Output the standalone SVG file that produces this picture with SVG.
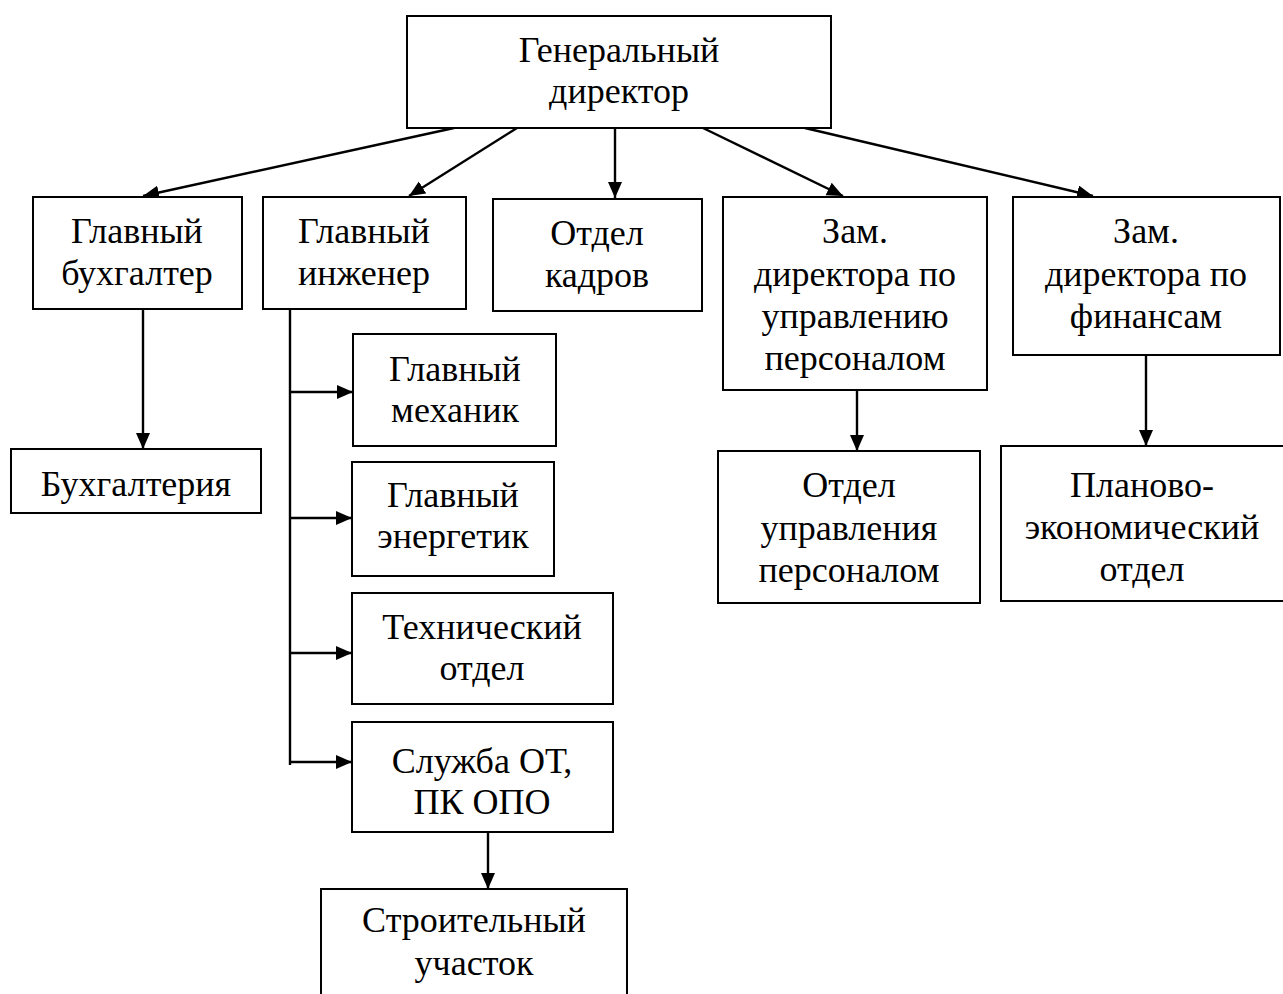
<svg xmlns="http://www.w3.org/2000/svg" width="1283" height="994" viewBox="0 0 1283 994">
<style>
.box{fill:#fff;stroke:#000;stroke-width:2}
.t{font-family:"Liberation Serif","Times New Roman",serif;font-size:36px;fill:#000;text-anchor:middle}
.c{stroke:#000;stroke-width:2.4;fill:none}
</style>
<defs>
<marker id="ah" markerUnits="userSpaceOnUse" markerWidth="17" markerHeight="15" refX="16" refY="7" orient="auto">
<path d="M0,0 L16,7 L0,14 Z" fill="#000"/>
</marker>
</defs>
<rect width="1283" height="994" fill="#fff"/>
<g id="connectors">
<line class="c" x1="454" y1="128" x2="143" y2="196" marker-end="url(#ah)"/>
<line class="c" x1="517" y1="128" x2="409" y2="196" marker-end="url(#ah)"/>
<line class="c" x1="615" y1="128" x2="615" y2="198" marker-end="url(#ah)"/>
<line class="c" x1="703" y1="128" x2="843" y2="196" marker-end="url(#ah)"/>
<line class="c" x1="805" y1="128" x2="1093" y2="196" marker-end="url(#ah)"/>
<line class="c" x1="143" y1="309" x2="143" y2="449" marker-end="url(#ah)"/>
<line class="c" x1="290" y1="309" x2="290" y2="765"/>
<line class="c" x1="290" y1="392" x2="353" y2="392" marker-end="url(#ah)"/>
<line class="c" x1="290" y1="518" x2="352" y2="518" marker-end="url(#ah)"/>
<line class="c" x1="290" y1="653" x2="352" y2="653" marker-end="url(#ah)"/>
<line class="c" x1="290" y1="762" x2="352" y2="762" marker-end="url(#ah)"/>
<line class="c" x1="488" y1="832" x2="488" y2="889" marker-end="url(#ah)"/>
<line class="c" x1="857" y1="390" x2="857" y2="451" marker-end="url(#ah)"/>
<line class="c" x1="1146" y1="355" x2="1146" y2="446" marker-end="url(#ah)"/>
</g>
<g id="gen-dir">
<rect class="box" x="407" y="16" width="424" height="112"/>
<text class="t" x="619" y="62">Генеральный</text>
<text class="t" x="619" y="103">директор</text>
</g>
<g id="gl-buh">
<rect class="box" x="33" y="197" width="209" height="112"/>
<text class="t" x="137" y="243">Главный</text>
<text class="t" x="137" y="285">бухгалтер</text>
</g>
<g id="gl-ing">
<rect class="box" x="263" y="197" width="203" height="112"/>
<text class="t" x="364" y="243">Главный</text>
<text class="t" x="364" y="285">инженер</text>
</g>
<g id="otdel-kadrov">
<rect class="box" x="493" y="199" width="209" height="112"/>
<text class="t" x="597" y="245">Отдел</text>
<text class="t" x="597" y="287">кадров</text>
</g>
<g id="zam-pers">
<rect class="box" x="723" y="197" width="264" height="193"/>
<text class="t" x="855" y="243">Зам.</text>
<text class="t" x="855" y="286">директора по</text>
<text class="t" x="855" y="328">управлению</text>
<text class="t" x="855" y="370">персоналом</text>
</g>
<g id="zam-fin">
<rect class="box" x="1013" y="197" width="267" height="158"/>
<text class="t" x="1146" y="243">Зам.</text>
<text class="t" x="1146" y="286">директора по</text>
<text class="t" x="1146" y="328">финансам</text>
</g>
<g id="buhgalteria">
<rect class="box" x="11" y="449" width="250" height="64"/>
<text class="t" x="136" y="496">Бухгалтерия</text>
</g>
<g id="gl-meh">
<rect class="box" x="353" y="334" width="203" height="112"/>
<text class="t" x="455" y="381">Главный</text>
<text class="t" x="455" y="422">механик</text>
</g>
<g id="gl-energ">
<rect class="box" x="352" y="462" width="202" height="114"/>
<text class="t" x="453" y="507">Главный</text>
<text class="t" x="453" y="548">энергетик</text>
</g>
<g id="tech-otdel">
<rect class="box" x="352" y="593" width="261" height="111"/>
<text class="t" x="482" y="639">Технический</text>
<text class="t" x="482" y="680">отдел</text>
</g>
<g id="sluzhba">
<rect class="box" x="352" y="722" width="261" height="110"/>
<text class="t" x="482" y="773">Служба ОТ,</text>
<text class="t" x="482" y="814">ПК ОПО</text>
</g>
<g id="stroit">
<rect class="box" x="321" y="889" width="306" height="120"/>
<text class="t" x="474" y="932">Строительный</text>
<text class="t" x="474" y="975">участок</text>
</g>
<g id="otdel-upr">
<rect class="box" x="718" y="451" width="262" height="152"/>
<text class="t" x="849" y="497">Отдел</text>
<text class="t" x="849" y="540">управления</text>
<text class="t" x="849" y="582">персоналом</text>
</g>
<g id="planovo">
<rect class="box" x="1001" y="446" width="290" height="155"/>
<text class="t" x="1142" y="497">Планово-</text>
<text class="t" x="1142" y="539">экономический</text>
<text class="t" x="1142" y="581">отдел</text>
</g>
</svg>
